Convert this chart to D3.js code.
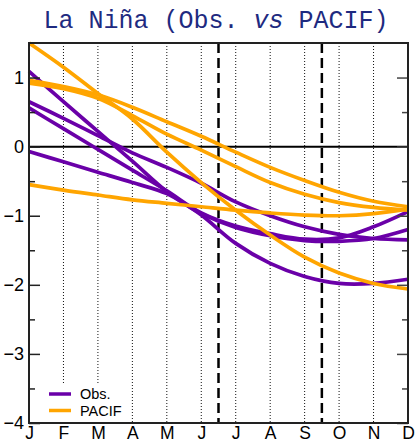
<!DOCTYPE html>
<html>
<head>
<meta charset="utf-8">
<script src="https://cdn.jsdelivr.net/npm/d3@7"></script>
<style>
  html, body { margin: 0; padding: 0; background: #fff; }
  svg { display: block; }
</style>
</head>
<body>
<div id="chart"></div>
<script>
// ---- data ----
const months = ["J","F","M","A","M","J","J","A","S","O","N","D"];
const yMajorTicks = [-4, -3, -2, -1, 0, 1];
const yMinorTicks = [-3.5, -2.5, -1.5, -0.5, 0.5];
const seasonBounds = [5.5, 8.5];
const seriesNames = ["Obs.", "PACIF"];

const obs1 = [1.09, 0.65, 0.22, -0.21, -0.65, -0.99, -1.40, -1.69, -1.88, -1.98, -1.98, -1.92];
const obs2 = [0.65, 0.41, 0.16, -0.09, -0.30, -0.53, -0.80, -1.00, -1.16, -1.27, -1.33, -1.35];
const obs3 = [0.56, 0.26, -0.04, -0.34, -0.64, -0.96, -1.15, -1.26, -1.34, -1.32, -1.16, -0.94];
const obs4 = [-0.07, -0.22, -0.37, -0.52, -0.68, -0.97, -1.17, -1.29, -1.36, -1.37, -1.33, -1.20];

const pacif1 = [1.50, 1.15, 0.77, 0.40, -0.08, -0.52, -0.92, -1.28, -1.60, -1.83, -1.98, -2.06];
const pacif2 = [0.96, 0.87, 0.75, 0.57, 0.36, 0.15, -0.08, -0.30, -0.49, -0.66, -0.79, -0.87];
const pacif3 = [0.92, 0.84, 0.70, 0.45, 0.18, -0.05, -0.29, -0.52, -0.69, -0.81, -0.88, -0.92];
const pacif4 = [-0.55, -0.63, -0.70, -0.77, -0.82, -0.87, -0.92, -0.96, -0.99, -1.00, -0.97, -0.90];

const obsSeries = [obs1, obs2, obs3, obs4];
const pacifSeries = [pacif1, pacif2, pacif3, pacif4];

(function () {
// ---- style ----
const W = 415, H = 443;
const pL = 29, pR = 408, pT = 43, pB = 423;
const obsColor = "#6a00a8";
const pacifColor = "#ffa500";
const sansFont = "'Liberation Sans', Arial, Helvetica, sans-serif";

const svg = d3.select("#chart").append("svg")
  .attr("width", W).attr("height", H);

svg.append("rect").attr("width", W).attr("height", H).attr("fill", "#fff");

const x = d3.scaleLinear().domain([0, months.length - 1]).range([pL, pR]);
const y = d3.scaleLinear().domain([-4, 1.5]).range([pB, pT]);

// title
const title = svg.append("text")
  .attr("x", 216).attr("y", 28)
  .attr("text-anchor", "middle")
  .attr("font-family", "'Liberation Mono', 'DejaVu Sans Mono', monospace")
  .attr("font-size", 25)
  .attr("fill", "#1e2a80");
title.append("tspan").text("La Niña (Obs. ");
title.append("tspan").attr("font-style", "italic").text("vs");
title.append("tspan").text(" PACIF)");

// vertical dotted month lines
svg.append("g").selectAll("line")
  .data(d3.range(1, months.length - 1))
  .join("line")
  .attr("x1", d => x(d)).attr("x2", d => x(d))
  .attr("y1", pT).attr("y2", pB)
  .attr("stroke", "#111")
  .attr("stroke-width", 1)
  .attr("stroke-dasharray", "1,2");

// legend background
svg.append("rect")
  .attr("x", pL + 1).attr("y", 383)
  .attr("width", 96).attr("height", pB - 383)
  .attr("fill", "#fff");

// season dashed lines
svg.append("g").selectAll("line")
  .data(seasonBounds)
  .join("line")
  .attr("x1", d => x(d)).attr("x2", d => x(d))
  .attr("y1", pT).attr("y2", pB)
  .attr("stroke", "#000")
  .attr("stroke-width", 2.5)
  .attr("stroke-dasharray", "10,5");

// zero line
svg.append("line")
  .attr("x1", pL).attr("x2", pR)
  .attr("y1", y(0)).attr("y2", y(0))
  .attr("stroke", "#000").attr("stroke-width", 2);

// series lines
const line = d3.line()
  .x((d, i) => x(i))
  .y(d => y(d))
  .curve(d3.curveCatmullRom.alpha(0.5));

const plot = svg.append("g");
plot.selectAll("path.obs")
  .data(obsSeries).join("path")
  .attr("class", "obs")
  .attr("d", line)
  .attr("fill", "none")
  .attr("stroke", obsColor)
  .attr("stroke-width", 3.7)
  .attr("stroke-linejoin", "round");
plot.selectAll("path.pacif")
  .data(pacifSeries).join("path")
  .attr("class", "pacif")
  .attr("d", line)
  .attr("fill", "none")
  .attr("stroke", pacifColor)
  .attr("stroke-width", 3.7)
  .attr("stroke-linejoin", "round");

// axes
const axisL = d3.axisLeft(y).tickValues(yMajorTicks).tickSize(-11).tickPadding(5)
  .tickFormat(d3.format("d"));
const gl = svg.append("g").attr("transform", `translate(${pL},0)`).call(axisL);
gl.select(".domain").remove();
gl.selectAll("line").attr("stroke", "#222").attr("stroke-width", 1.5);
gl.selectAll("text").attr("font-family", sansFont).attr("font-size", 18).attr("fill", "#000");

const gl2 = svg.append("g").attr("transform", `translate(${pL},0)`)
  .call(d3.axisLeft(y).tickValues(yMinorTicks).tickSize(-6).tickFormat(""));
gl2.select(".domain").remove();
gl2.selectAll("line").attr("stroke", "#222").attr("stroke-width", 1.5);

const gr = svg.append("g").attr("transform", `translate(${pR},0)`)
  .call(d3.axisRight(y).tickValues(yMajorTicks).tickSize(-11).tickFormat(""));
gr.select(".domain").remove();
gr.selectAll("line").attr("stroke", "#444").attr("stroke-width", 1.5);
const gr2 = svg.append("g").attr("transform", `translate(${pR},0)`)
  .call(d3.axisRight(y).tickValues(yMinorTicks).tickSize(-6).tickFormat(""));
gr2.select(".domain").remove();
gr2.selectAll("line").attr("stroke", "#444").attr("stroke-width", 1.5);

const gb = svg.append("g").attr("transform", `translate(0,${pB})`)
  .call(d3.axisBottom(x).tickValues(d3.range(months.length)).tickSize(0).tickPadding(4)
    .tickFormat(i => months[i]));
gb.select(".domain").remove();
gb.selectAll("text").attr("font-family", sansFont).attr("font-size", 17.5).attr("fill", "#000");

// frame
svg.append("rect")
  .attr("x", pL).attr("y", pT)
  .attr("width", pR - pL).attr("height", pB - pT)
  .attr("fill", "none")
  .attr("stroke", "#222").attr("stroke-width", 2);

// legend
const legendItems = [
  { name: seriesNames[0], color: obsColor, y: 394 },
  { name: seriesNames[1], color: pacifColor, y: 410.5 }
];
const lg = svg.append("g");
lg.selectAll("line").data(legendItems).join("line")
  .attr("x1", 49).attr("x2", 71)
  .attr("y1", d => d.y).attr("y2", d => d.y)
  .attr("stroke", d => d.color).attr("stroke-width", 3.5);
lg.selectAll("text").data(legendItems).join("text")
  .attr("x", 80).attr("y", d => d.y + 5.3)
  .attr("font-family", sansFont).attr("font-size", 14.5)
  .attr("fill", "#000")
  .text(d => d.name);
})();
</script>
</body>
</html>
